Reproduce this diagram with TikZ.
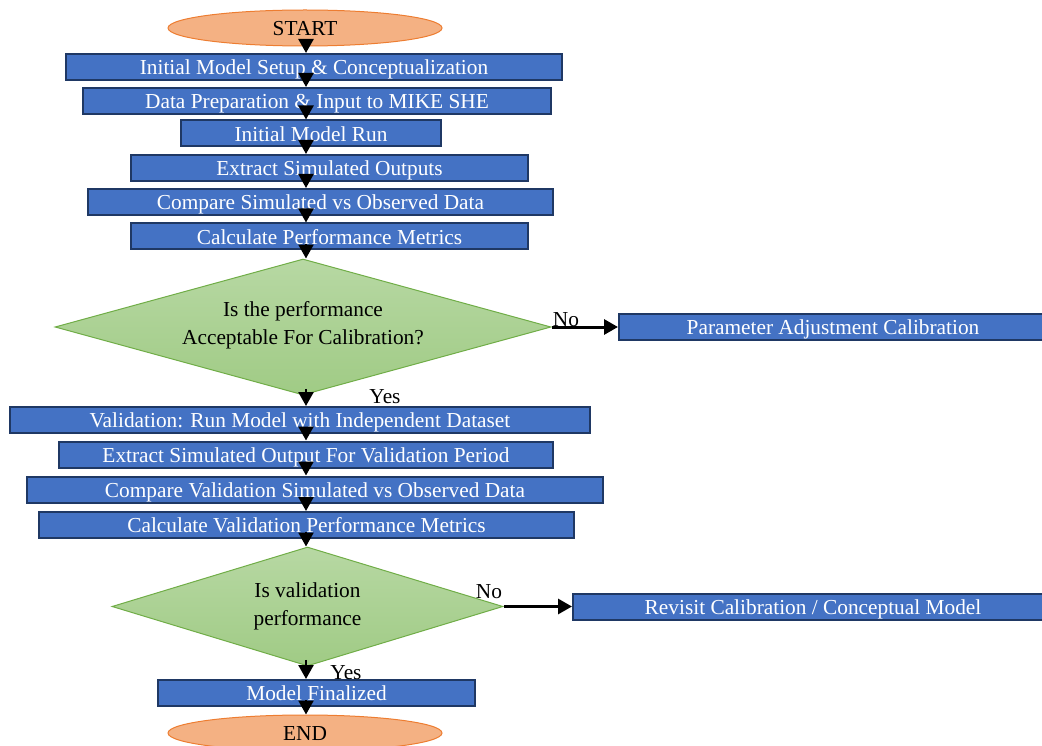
\documentclass[tikz,border=0pt]{standalone}
\usepackage{fontspec}
\setmainfont{Liberation Serif}
\usetikzlibrary{arrows.meta, shapes.geometric}
\definecolor{boxblue}{HTML}{4472C4}
\definecolor{boxline}{HTML}{1F3864}
\definecolor{ovalfill}{HTML}{F4B183}
\definecolor{ovalline}{HTML}{ED7D31}
\definecolor{diatop}{HTML}{B7D8A3}
\definecolor{diabot}{HTML}{A0CB85}
\definecolor{dialine}{HTML}{70AD47}

\begin{document}
\begin{tikzpicture}[x=0.6pt, y=-0.6pt, font=\fontsize{12.8}{16.8}\selectfont,
	stepbox/.style={shape=rectangle, draw=boxline, fill=boxblue, line width=1.2pt, text=white, minimum height=15.6pt, inner sep=0pt, text height=10pt, text depth=0.5pt},
	oval/.style={shape=ellipse, draw=ovalline, fill=ovalfill, line width=0.6pt, minimum width=164.4pt, minimum height=21.6pt, inner sep=0pt, text height=10pt, text depth=0.5pt},
	query/.style={shape=diamond, draw=dialine, top color=diatop, bottom color=diabot, line width=0.6pt, align=center, inner sep=0pt},
	flow/.style={-{Triangle[length=8.4pt, width=9pt]}, line width=1.5pt}]
	% Paths, nodes and wires:
	\useasboundingbox (0,0) rectangle (1042,746);
	\coordinate (spine) at (306,0);
	\node[oval] (start) at (305,28) {START};
	\node[stepbox, minimum width=297.6pt] (b1) at (314,67) {Initial Model Setup \& Conceptualization};
	\node[stepbox, minimum width=280.8pt] (b2) at (317,101) {Data Preparation \& Input to MIKE SHE};
	\node[stepbox, minimum width=156pt] (b3) at (311,133.5) {Initial Model Run};
	\node[stepbox, minimum width=238.2pt] (b4) at (329.5,168) {Extract Simulated Outputs};
	\node[stepbox, minimum width=279pt] (b5) at (320.5,202) {Compare Simulated vs Observed Data};
	\node[stepbox, minimum width=238.2pt] (b6) at (329.5,236.5) {Calculate Performance Metrics};
	\node[query, aspect=3.65, minimum width=297.6pt, minimum height=81.6pt, text depth=5pt] (d1) at (303,327) {Is the performance\\Acceptable For Calibration?};
	\node[stepbox, minimum width=256.8pt] (adjust) at (833,327) {Parameter Adjustment Calibration};
	\node[stepbox, minimum width=348pt] (b7) at (300,420) {Validation: Run Model with Independent Dataset};
	\node[stepbox, minimum width=296.4pt] (b8) at (306,454.5) {Extract Simulated Output For Validation Period};
	\node[stepbox, minimum width=345.6pt] (b9) at (315,489.5) {Compare Validation Simulated vs Observed Data};
	\node[stepbox, minimum width=321pt] (b10) at (306.5,525) {Calculate Validation Performance Metrics};
	\node[query, aspect=3.29, minimum width=234.6pt, minimum height=71.4pt] (d2) at (307.5,606.5) {Is validation\\performance};
	\node[stepbox, minimum width=288pt] (revisit) at (813,606.5) {Revisit Calibration / Conceptual Model};
	\node[stepbox, minimum width=190.2pt] (b11) at (316.5,693) {Model Finalized};
	\node[oval] (end) at (305,733) {END};
	\node (no1) at (566,320) {No};
	\node (yes1) at (385,397) {Yes};
	\node (no2) at (489,592) {No};
	\node (yes2) at (346,673) {Yes};
	\foreach \a/\b in {start/b1, b1/b2, b2/b3, b3/b4, b4/b5, b5/b6, b6/d1, d1/b7, b7/b8, b8/b9, b9/b10, b10/d2, d2/b11, b11/end}
		\draw[flow] ([yshift=4pt]spine |- \a.south) -- (spine |- \b.north);
	\draw[flow, line width=1.8pt] (d1.east) -- (adjust.west);
	\draw[flow, line width=1.8pt] (d2.east) -- (revisit.west);
\end{tikzpicture}
\end{document}
